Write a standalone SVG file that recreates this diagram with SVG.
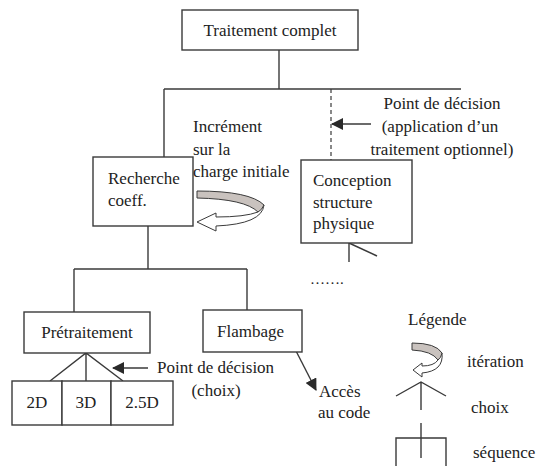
<svg xmlns="http://www.w3.org/2000/svg" width="536" height="466" viewBox="0 0 536 466" font-family="Liberation Serif, DejaVu Serif, serif">
<defs>
<style>
.box{fill:#fff;stroke:#3a3a3a;stroke-width:1.4}
.ln{fill:none;stroke:#3a3a3a;stroke-width:1.4}
.dash{fill:none;stroke:#3a3a3a;stroke-width:1.2;stroke-dasharray:4,3}
text{font-family:'Liberation Serif','DejaVu Serif',serif;font-size:17px;fill:#222}
.m{text-anchor:middle}
.band{fill:#c9c2be;stroke:#3a3a3a;stroke-width:1}
.hollow{fill:#fff;stroke:#3a3a3a;stroke-width:1}
</style>
<marker id="ah" viewBox="0 0 12 12" refX="11" refY="6" markerWidth="12" markerHeight="12" markerUnits="userSpaceOnUse" orient="auto">
<path d="M0,0 L12,6 L0,12 Z" fill="#2a2a2a"/>
</marker>
</defs>
<rect width="536" height="466" fill="#fff"/>

<g id="connectors">
<line class="ln" x1="279" y1="50" x2="279" y2="89"/>
<line class="ln" x1="164" y1="89" x2="461" y2="89"/>
<line class="ln" x1="164" y1="89" x2="164" y2="157"/>
<line class="dash" x1="331" y1="89" x2="331" y2="160"/>
<line class="ln" x1="371" y1="124" x2="332" y2="124" marker-end="url(#ah)"/>
<line class="ln" x1="148" y1="226" x2="148" y2="269"/>
<line class="ln" x1="74" y1="269" x2="247" y2="269"/>
<line class="ln" x1="74" y1="269" x2="74" y2="312"/>
<line class="ln" x1="247" y1="269" x2="247" y2="310"/>
<line class="ln" x1="349" y1="243" x2="349" y2="262"/>
<line class="ln" x1="349" y1="243" x2="377" y2="256"/>
<path class="ln" d="M50,381 L86,353 L123,381 M86,353 L86,381"/>
<line class="ln" x1="148" y1="368" x2="113" y2="368" marker-end="url(#ah)"/>
<line class="ln" x1="295" y1="349" x2="316" y2="390" marker-end="url(#ah)"/>
</g>

<g id="traitement-complet">
<rect class="box" x="182" y="10" width="176" height="40"/>
<text class="m" x="270" y="36">Traitement complet</text>
</g>

<g id="recherche-coeff">
<rect class="box" x="93" y="157" width="100" height="69"/>
<text x="108" y="184">Recherche</text>
<text x="108" y="206">coeff.</text>
</g>

<g id="iteration-recherche">
<path class="hollow" d="M258,212 Q245,217 216,217 L216,213 L197,222 L216,231 L216,226 Q262,224 264,205 Z"/>
<path class="band" d="M197,191 Q250,191 264,205 Q262,210 258,212 Q245,199 197,198 Z"/>
</g>

<g id="increment-label">
<text x="193" y="132">Incrément</text>
<text x="193" y="155">sur la</text>
<text x="193" y="177">charge initiale</text>
</g>

<g id="decision-optionnel">
<text class="m" x="442" y="109">Point de décision</text>
<text class="m" x="440" y="132">(application d’un</text>
<text class="m" x="442" y="155">traitement optionnel)</text>
</g>

<g id="conception">
<rect class="box" x="301" y="160" width="111" height="83"/>
<text x="313" y="186">Conception</text>
<text x="313" y="208">structure</text>
<text x="313" y="229">physique</text>
</g>

<g id="etc">
<text x="310" y="284" style="font-size:15px">…….</text>
</g>

<g id="pretraitement">
<rect class="box" x="24" y="312" width="126" height="41"/>
<text class="m" x="87" y="338">Prétraitement</text>
</g>

<g id="b2d">
<rect class="box" x="12" y="381" width="50" height="44"/>
<text class="m" x="37" y="408">2D</text>
</g>
<g id="b3d">
<rect class="box" x="62" y="381" width="49" height="44"/>
<text class="m" x="86" y="408">3D</text>
</g>
<g id="b25d">
<rect class="box" x="111" y="381" width="62" height="44"/>
<text class="m" x="142" y="408">2.5D</text>
</g>

<g id="decision-choix">
<text x="157" y="373">Point de décision</text>
<text class="m" x="216" y="396">(choix)</text>
</g>

<g id="flambage">
<rect class="box" x="203" y="310" width="99" height="42"/>
<text x="217" y="337">Flambage</text>
</g>

<g id="acces-code">
<text x="319" y="397">Accès</text>
<text x="318" y="418">au code</text>
</g>

<g id="legende">
<text x="408" y="325">Légende</text>
<path class="hollow" d="M438,360 Q434,366 422,366 L422,363 L413,370 L422,377 L422,373 Q444,371 442,353 Z"/>
<path class="band" d="M412,343 Q436,343 442,353 Q441,358 438,360 Q432,351 412,350 Z"/>
<text x="467" y="367">itération</text>
<path class="ln" d="M396,396 L421,382 L446,396 M421,382 L421,410"/>
<text x="471" y="413">choix</text>
<path class="ln" d="M421,423 L421,458 M396,466 L396,438 L446,438 L446,466"/>
<text x="473" y="458">séquence</text>
</g>
</svg>
